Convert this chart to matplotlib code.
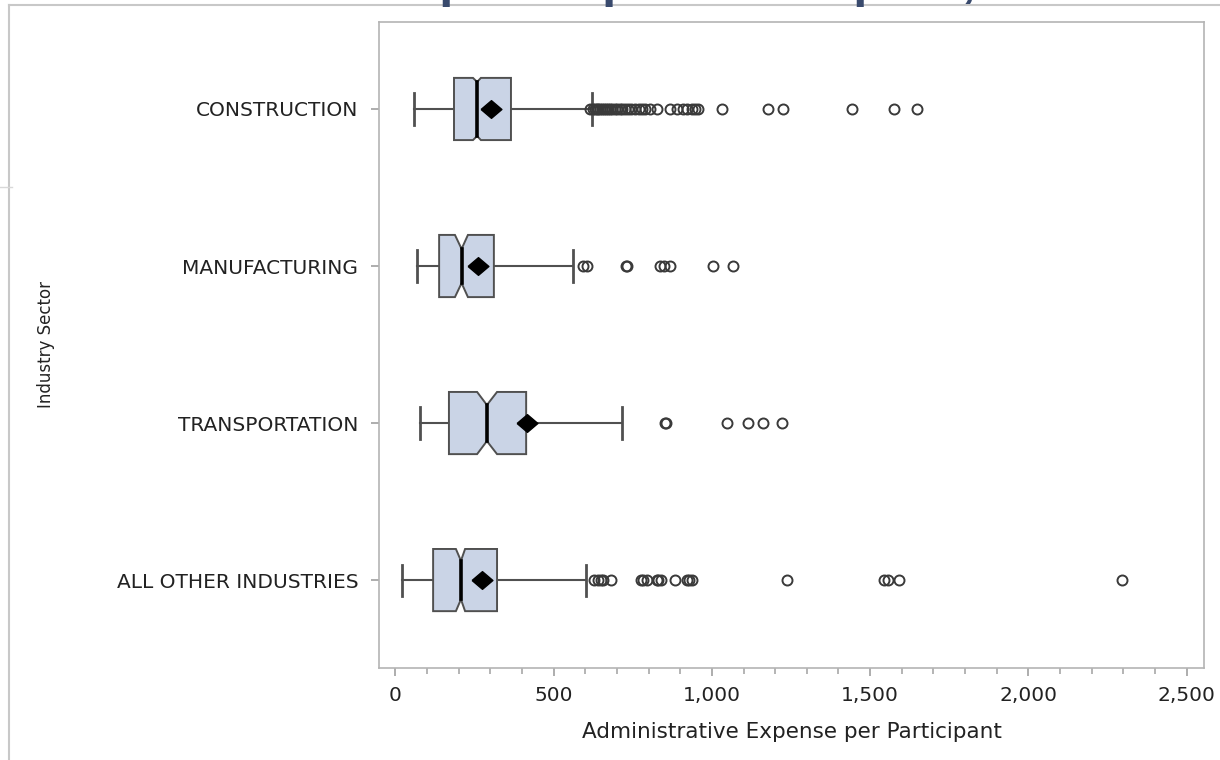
import matplotlib
matplotlib.use('Agg')
import matplotlib.pyplot as plt
from matplotlib.lines import Line2D
from matplotlib.ticker import MultipleLocator, FuncFormatter

# summary statistics per sector (admin expense per participant)
sectors = ['CONSTRUCTION', 'MANUFACTURING', 'TRANSPORTATION', 'ALL OTHER INDUSTRIES']
whiskerLow = [58, 67, 77, 21]
q1 = [185, 138, 169, 119]
notchLow = [245, 188, 258, 191]
median = [258, 209, 289, 207]
notchHigh = [270, 229, 321, 220]
q3 = [365, 311, 413, 321]
whiskerHigh = [621, 560, 716, 602]
meanVal = [302, 261, 416, 274]

outConstruction = [615, 624, 630, 636, 641, 647, 653, 660, 666, 672, 678, 685, 693,
                   700, 708, 716, 725, 735, 745, 757, 770, 780, 790, 805, 827, 868,
                   890, 909, 922, 938, 947, 957, 1032, 1178, 1226, 1444, 1574, 1649]
outManufacturing = [593, 605, 730, 733, 835, 850, 866, 1005, 1067]
outTransportation = [852, 855, 1048, 1115, 1162, 1222]
outOther = [628, 640, 648, 655, 680, 775, 782, 795, 825, 830, 838, 884, 920, 928,
            937, 1238, 1545, 1558, 1592, 2295]
outliers = [outConstruction, outManufacturing, outTransportation, outOther]

# how far the notch cuts into the box (fraction of half height)
notchDepth = [0.13, 0.45, 0.42, 0.38]

plt.rcParams['font.family'] = ['DejaVu Sans']

fig = plt.figure(figsize=(12.2, 7.6), dpi=100)
ax = fig.add_axes([379 / 1220, 1 - 668 / 760, (1204 - 379) / 1220, (668 - 22) / 760])

boxFace = '#CAD4E6'
lineCol = '#505050'
halfH = 0.198
diamond = [(-1, 0), (0, 0.85), (1, 0), (0, -0.85), (-1, 0)]

for i in range(len(sectors)):
    pos = i + 1
    d = notchDepth[i]
    # whiskers + caps
    ax.plot([whiskerLow[i], q1[i]], [pos, pos], color=lineCol, lw=1.5, zorder=2)
    ax.plot([q3[i], whiskerHigh[i]], [pos, pos], color=lineCol, lw=1.5, zorder=2)
    for w in (whiskerLow[i], whiskerHigh[i]):
        ax.plot([w, w], [pos - halfH / 2, pos + halfH / 2], color=lineCol, lw=2, zorder=2)
    # notched box
    xs = [q1[i], notchLow[i], median[i], notchHigh[i], q3[i],
          q3[i], notchHigh[i], median[i], notchLow[i], q1[i], q1[i]]
    ys = [pos - halfH, pos - halfH, pos - halfH * (1 - d), pos - halfH, pos - halfH,
          pos + halfH, pos + halfH, pos + halfH * (1 - d), pos + halfH, pos + halfH, pos - halfH]
    ax.fill(xs, ys, facecolor=boxFace, edgecolor=lineCol, lw=1.4, zorder=3)
    ax.plot([median[i], median[i]], [pos - halfH * (1 - d), pos + halfH * (1 - d)],
            color='black', lw=2.6, zorder=4)
    # mean
    ax.plot(meanVal[i], pos, marker=diamond, markersize=15, color='black', zorder=5)
    # outliers
    ax.plot(outliers[i], [pos] * len(outliers[i]), 'o', markersize=7.2,
            markerfacecolor='none', markeredgecolor='#3a3a3a', markeredgewidth=1.4, zorder=4)

ax.set_xlim(-52, 2555)
ax.set_ylim(4.56, 0.446)
ax.set_yticks(range(1, len(sectors) + 1))
ax.set_yticklabels(sectors)
ax.xaxis.set_major_locator(MultipleLocator(500))
ax.xaxis.set_minor_locator(MultipleLocator(100))
ax.xaxis.set_major_formatter(FuncFormatter(lambda v, p: '{:,.0f}'.format(v)))

for s in ax.spines.values():
    s.set_color('#B4B4B4')
    s.set_linewidth(1.2)
ax.tick_params(axis='both', which='major', color='#A0A0A0', length=6, width=1.2,
               labelsize=14.5, labelcolor='#222222')
ax.tick_params(axis='x', which='minor', color='#A0A0A0', length=4, width=1.1)
ax.tick_params(axis='x', which='major', pad=7)
ax.tick_params(axis='y', which='major', pad=9)

ax.set_xlabel('Administrative Expense per Participant', fontsize=15.5, color='#222222', labelpad=12)
ax.set_ylabel('Industry Sector', fontsize=12, color='#222222')
ax.yaxis.set_label_coords(-(379 - 55) / 825, 0.5)

# page frame
fig.add_artist(Line2D([9 / 1220, 1], [1 - 5 / 760, 1 - 5 / 760], color='#C8C8C8', lw=1.5))
fig.add_artist(Line2D([9 / 1220, 9 / 1220], [0, 1 - 5 / 760], color='#C8C8C8', lw=1.5))
fig.add_artist(Line2D([0, 12 / 1220], [1 - 187 / 760, 1 - 187 / 760], color='#D8D8D8', lw=1))

# title sits above the page edge, only descenders reach the page
fig.text(5 / 1220, 1 + 4 / 760, 'Administrative Expense per Participant, All Sectors',
         fontsize=37, fontweight='bold', color='#394A6D', family=['Liberation Sans'],
         ha='left', va='baseline')

fig.savefig('out.png', dpi=100)
